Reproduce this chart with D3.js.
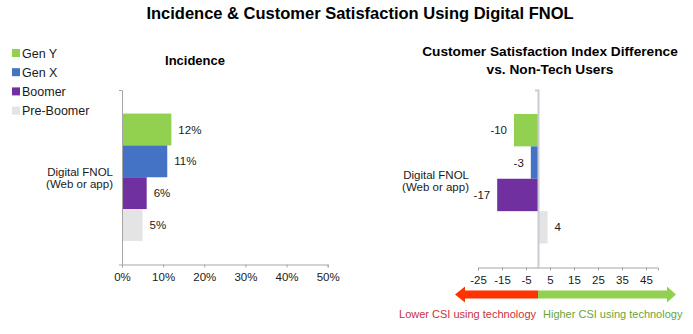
<!DOCTYPE html>
<html>
<head>
<meta charset="utf-8">
<script src="https://cdn.jsdelivr.net/npm/d3@7"></script>
<style>
  html, body { margin: 0; padding: 0; background: #fff; }
  svg { display: block; font-family: "Liberation Sans", Arial, sans-serif; }
</style>
</head>
<body>
<svg id="chart" width="693" height="334"></svg>
<script>
// ---- data ----
const categories = ["Digital FNOL"];
const categoryLines = ["Digital FNOL", "(Web or app)"];
const series = ["Gen Y", "Gen X", "Boomer", "Pre-Boomer"];
const seriesColors = ["#92d050", "#4472c4", "#7030a0", "#e4e4e4"];
const incidence = [0.12, 0.11, 0.06, 0.05];
const csiDiff = [-10, -3, -17, 4];
const incidenceTicks = [0, 0.1, 0.2, 0.3, 0.4, 0.5];
const csiTicks = [-25, -15, -5, 5, 15, 25, 35, 45];
const csiDomain = [-25, 50];

const svg = d3.select("#chart");
const axisGrey = "#a6a6a6";
// plain hyphen-minus for negative numbers
const intFmt = v => String(Math.round(v));
const pctFmt = v => Math.round(v * 100) + "%";

// ---- titles ----
svg.append("text").attr("x", 360).attr("y", 19).attr("text-anchor", "middle")
  .attr("font-weight", "bold").attr("font-size", 16.5).attr("fill", "#000")
  .text("Incidence & Customer Satisfaction Using Digital FNOL");

svg.append("text").attr("x", 195).attr("y", 65).attr("text-anchor", "middle")
  .attr("font-weight", "bold").attr("font-size", 13).text("Incidence");

const sub = svg.append("text").attr("text-anchor", "middle")
  .attr("font-weight", "bold").attr("font-size", 13.7);
sub.append("tspan").attr("x", 550).attr("y", 56).text("Customer Satisfaction Index Difference");
sub.append("tspan").attr("x", 550).attr("y", 74).text("vs. Non-Tech Users");

// ---- legend ----
const legend = svg.append("g").attr("transform", "translate(12,0)");
series.forEach((s, i) => {
  const cy = 53 + i * 19.2;
  legend.append("rect").attr("x", 0).attr("y", cy - 4).attr("width", 8).attr("height", 8)
    .attr("fill", seriesColors[i]);
  legend.append("text").attr("x", 10).attr("y", cy).attr("dy", "0.36em")
    .attr("font-size", 12.5).attr("fill", "#1a1a1a").text(s);
});

// ---- helper for the grouped horizontal bars ----
function drawPanel(opts) {
  const g = svg.append("g");
  const y0 = d3.scaleBand().domain(categories).range(opts.yRange)
    .paddingInner(0).paddingOuter(0.185);
  const y1 = d3.scaleBand().domain(series).range([0, y0.bandwidth()]);
  const x = opts.x;

  // bars
  g.selectAll("rect.bar").data(series).join("rect")
    .attr("class", "bar")
    .attr("x", (s, i) => Math.min(x(0), x(opts.values[i])))
    .attr("width", (s, i) => Math.abs(x(opts.values[i]) - x(0)))
    .attr("y", s => y0(categories[0]) + y1(s))
    .attr("height", y1.bandwidth())
    .attr("fill", (s, i) => seriesColors[i]);

  // value labels
  g.selectAll("text.val").data(series).join("text")
    .attr("class", "val")
    .attr("x", (s, i) => x(opts.values[i]) + (opts.values[i] < 0 ? -7 : 7))
    .attr("y", s => y0(categories[0]) + y1(s) + y1.bandwidth() / 2)
    .attr("dy", "0.36em")
    .attr("text-anchor", (s, i) => opts.values[i] < 0 ? "end" : "start")
    .attr("font-size", 11.5).attr("fill", "#1a1a1a")
    .text((s, i) => opts.format(opts.values[i]));

  // bottom axis
  const ax = g.append("g")
    .attr("transform", `translate(0,${opts.yRange[1]})`)
    .call(d3.axisBottom(x).tickValues(opts.ticks).tickFormat(opts.format)
      .tickSize(3).tickSizeOuter(3).tickPadding(5));
  ax.select(".domain").attr("stroke", axisGrey);
  ax.selectAll(".tick line").attr("stroke", axisGrey);
  ax.selectAll(".tick text").attr("font-size", 11.5).attr("fill", "#1a1a1a")
    .attr("font-family", "Liberation Sans, Arial, sans-serif");

  // vertical axis at zero
  const vy = d3.scaleLinear().range(opts.yRange);
  const vax = g.append("g").attr("transform", `translate(${x(0)},0)`)
    .call(d3.axisLeft(vy).tickValues([]).tickSizeOuter(3));
  vax.select(".domain").attr("stroke", opts.zeroColor).attr("stroke-width", opts.zeroWidth);

  // category label
  const cl = g.append("text").attr("text-anchor", "end")
    .attr("font-size", 11.5).attr("fill", "#1a1a1a");
  categoryLines.forEach((t, i) => {
    cl.append("tspan").attr("x", opts.catX)
      .attr("y", y0(categories[0]) + y0.bandwidth() / 2 + opts.catDy + i * 12).text(t);
  });
  return g;
}

// ---- left panel: incidence ----
drawPanel({
  x: d3.scaleLinear().domain([0, 0.5]).range([122, 327.7]),
  yRange: [90, 264.5],
  values: incidence,
  ticks: incidenceTicks,
  format: pctFmt,
  zeroColor: axisGrey, zeroWidth: 1,
  catX: 113, catDy: -1
});

// ---- right panel: CSI difference ----
const xR = d3.scaleLinear().domain(csiDomain).range([478, 658]);
drawPanel({
  x: xR,
  yRange: [90, 267.5],
  values: csiDiff,
  ticks: csiTicks,
  format: intFmt,
  zeroColor: "#c9ccd3", zeroWidth: 2,
  catX: 469, catDy: 0
});

// ---- direction arrows under the CSI axis ----
const ay = 294.5;
const arrows = svg.append("g");
arrows.append("path")
  .attr("d", `M${xR(0)},${ay - 4} L465,${ay - 4} L465,${ay - 8} L455,${ay} L465,${ay + 8} L465,${ay + 4} L${xR(0)},${ay + 4} Z`)
  .attr("fill", "#ff3300");
arrows.append("path")
  .attr("d", `M${xR(0)},${ay - 4} L667,${ay - 4} L667,${ay - 8} L676,${ay} L667,${ay + 8} L667,${ay + 4} L${xR(0)},${ay + 4} Z`)
  .attr("fill", "#92d050");

svg.append("text").attr("x", 536).attr("y", 314).attr("dy", "0.36em")
  .attr("text-anchor", "end").attr("font-size", 11).attr("fill", "#c8323c")
  .text("Lower CSI using technology");
svg.append("text").attr("x", 543).attr("y", 314).attr("dy", "0.36em")
  .attr("text-anchor", "start").attr("font-size", 11).attr("fill", "#6aa53a")
  .text("Higher CSI using technology");
</script>
</body>
</html>
